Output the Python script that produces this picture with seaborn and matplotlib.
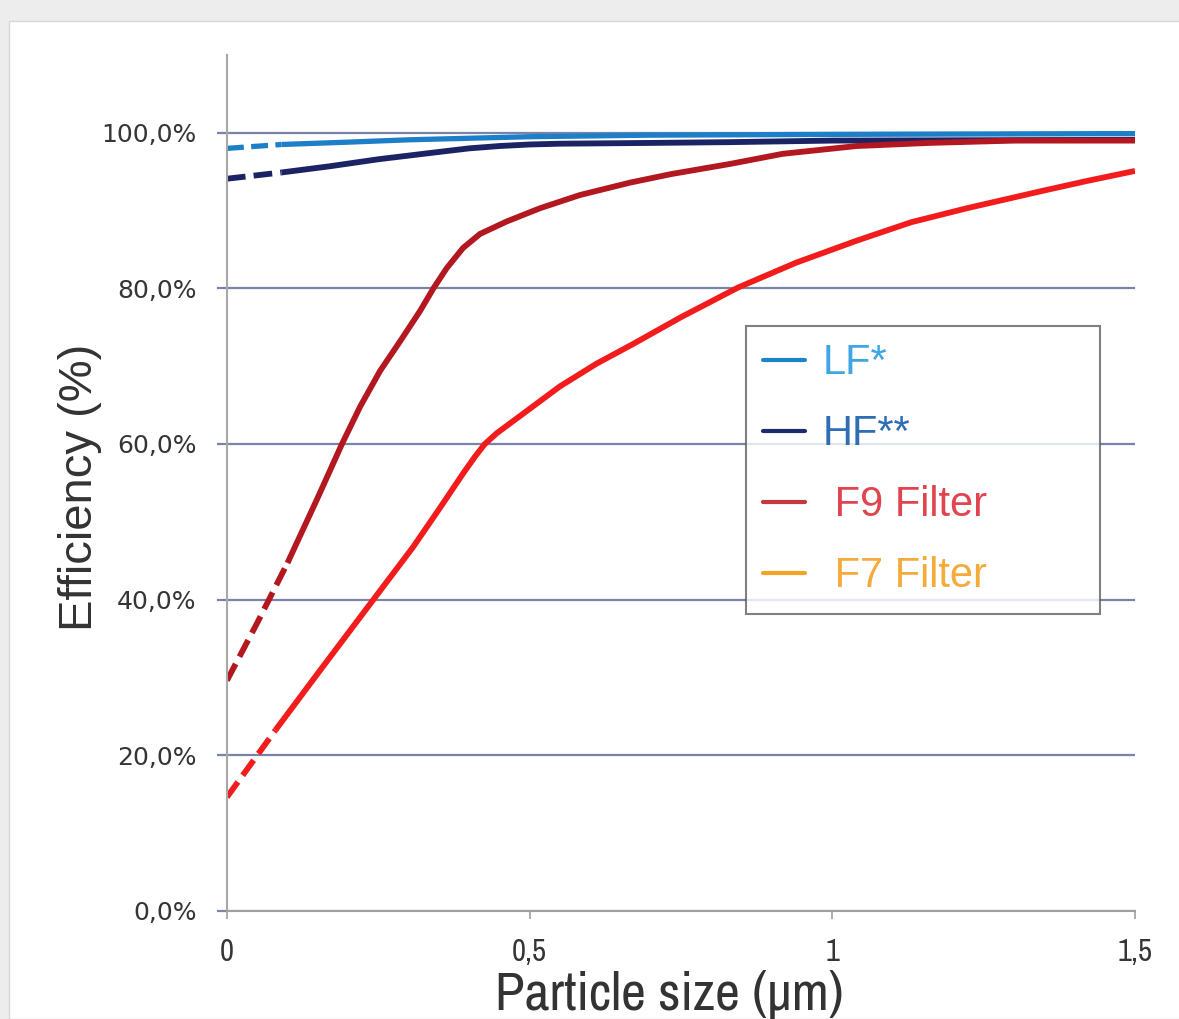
import pandas as pd
import seaborn as sns
import matplotlib.pyplot as plt
from matplotlib import font_manager
from matplotlib.lines import Line2D
from matplotlib.patches import Rectangle

# particle size (um) vs efficiency (%)
lf_x = [0, 0.09, 0.2, 0.3, 0.4, 0.5, 0.7, 1.0, 1.5]
lf_y = [98.0, 98.5, 98.8, 99.1, 99.3, 99.5, 99.7, 99.8, 99.9]

hf_x = [0, 0.09, 0.17, 0.25, 0.335, 0.4, 0.45, 0.5, 0.55, 0.7, 0.83, 1.0, 1.5]
hf_y = [94.1, 94.9, 95.7, 96.6, 97.4, 98.0, 98.3, 98.5, 98.6, 98.7, 98.8, 99.0, 99.1]

f9_x = [0, 0.05, 0.1, 0.15, 0.19, 0.22, 0.253, 0.286, 0.319, 0.341, 0.363, 0.39,
        0.418, 0.462, 0.517, 0.583, 0.666, 0.734, 0.831, 0.918, 1.04, 1.16, 1.3, 1.5]
f9_y = [29.6, 37.0, 44.7, 53.1, 60.0, 64.8, 69.4, 73.2, 77.1, 80.0, 82.6, 85.2,
        87.0, 88.6, 90.3, 92.0, 93.6, 94.7, 96.0, 97.3, 98.3, 98.7, 99.0, 99.0]

f7_x = [0, 0.08, 0.15, 0.241, 0.307, 0.352, 0.39, 0.41, 0.426, 0.446, 0.479, 0.55,
        0.61, 0.672, 0.75, 0.844, 0.94, 1.039, 1.13, 1.222, 1.345, 1.42, 1.5]
f7_y = [14.6, 23.2, 30.5, 39.9, 46.7, 51.8, 56.2, 58.4, 60.0, 61.4, 63.3, 67.4,
        70.3, 72.9, 76.3, 80.1, 83.3, 86.1, 88.5, 90.3, 92.5, 93.8, 95.1]

# where each curve turns from dashed to solid
dash_end = {"LF": 0.09, "HF": 0.09, "F9": 0.1, "F7": 0.08}

line_colors = {"LF": "#1c7fc8", "HF": "#1b2364", "F9": "#b3171f", "F7": "#f21c1c"}

legend_labels = ["LF*", "HF**", " F9 Filter", " F7 Filter"]
legend_handle_colors = ["#1c82c9", "#1d2b6b", "#c23a40", "#f2a424"]
legend_text_colors = ["#3fa6e3", "#2f6db5", "#e0454f", "#f4ab3c"]

y_ticks = [0, 20, 40, 60, 80, 100]
y_ticklabels = ["0,0%", "20,0%", "40,0%", "60,0%", "80,0%", "100,0%"]
x_ticks = [0, 0.5, 1, 1.5]
x_ticklabels = ["0", "0,5", "1", "1,5"]

installed = {f.name for f in font_manager.fontManager.ttflist}


def pick(*names):
    for n in names:
        if n in installed:
            return n
    return "DejaVu Sans"


narrow_font = pick("Liberation Sans Narrow", "Archivo Narrow", "PT Sans Narrow",
                   "Roboto Condensed")
helv_font = pick("Liberation Sans", "Arimo", "Helvetica", "Arial")


def draw_curve(ax, x, y, color, cut, lw=4.2):
    df = pd.DataFrame({"size": x, "eff": y})
    head = df[df["size"] <= cut]
    tail = df[df["size"] >= cut]
    sns.lineplot(data=head, x="size", y="eff", color=color, lw=lw, ax=ax,
                 errorbar=None, linestyle=(0, (3.2, 1.4)))
    sns.lineplot(data=tail, x="size", y="eff", color=color, lw=lw, ax=ax,
                 errorbar=None, solid_capstyle="butt", solid_joinstyle="round")


sns.set_style("white")
plt.rcParams["font.family"] = ["DejaVu Sans"]

fig = plt.figure(figsize=(11.79, 10.19), dpi=100, facecolor="#ededed")
fig.patches.append(Rectangle((9 / 1179, 0), 1, 1 - 21 / 1019, transform=fig.transFigure,
                             facecolor="white", edgecolor="#d8d8d8", lw=1, zorder=-5))
ax = fig.add_axes([0.1925, 0.1063, 0.7702, 0.8397])
ax.set_zorder(2)
ax.set_facecolor("none")

draw_curve(ax, hf_x, hf_y, line_colors["HF"], dash_end["HF"])
draw_curve(ax, lf_x, lf_y, line_colors["LF"], dash_end["LF"], lw=3.8)
draw_curve(ax, f9_x, f9_y, line_colors["F9"], dash_end["F9"])
draw_curve(ax, f7_x, f7_y, line_colors["F7"], dash_end["F7"])

ax.set_xlim(0, 1.5)
ax.set_ylim(0, 110)
ax.set_yticks(y_ticks)
ax.set_yticklabels(y_ticklabels)
ax.set_xticks(x_ticks)
ax.set_xticklabels(x_ticklabels, family=[narrow_font, "DejaVu Sans"])

grid_color = "#7a84a8"
ax.yaxis.grid(True, color=grid_color, lw=1.6)
ax.xaxis.grid(False)
ax.set_axisbelow(True)
for s in ["top", "right"]:
    ax.spines[s].set_visible(False)
ax.spines["left"].set_color("#a8a8a8")
ax.spines["left"].set_linewidth(1.5)
ax.spines["bottom"].set_color("#a0a0a0")
ax.spines["bottom"].set_linewidth(1.5)

ax.tick_params(axis="y", length=7, width=1.6, color=grid_color, pad=15,
               labelsize=18, labelcolor="#353535", left=True)
ax.tick_params(axis="x", length=6, width=1.2, color="#a0a0a0", pad=14,
               labelsize=22, labelcolor="#353535", bottom=True)

ax.set_xlabel("Particle size (µm)", fontsize=39, color="#333333", va="top",
              family=[narrow_font, "DejaVu Sans"])
ax.xaxis.set_label_coords(0.487, -0.069)
ax.set_ylabel("Efficiency (%)", fontsize=34, color="#333333",
              family=[helv_font, "DejaVu Sans"])
ax.yaxis.set_label_coords(-0.138, 0.495)

handles = [Line2D([], [], color=c, lw=3) for c in legend_handle_colors]
leg = ax.legend(handles, legend_labels, loc="upper left", mode="expand",
                bbox_to_anchor=(0.5716, 0.0, 0.39, 0.6833), borderaxespad=0,
                prop=dict(family=[helv_font, "DejaVu Sans"], size=30),
                handlelength=1.0, handletextpad=0.42, labelspacing=0.745,
                borderpad=0.416, fancybox=False, frameon=True)
leg.get_frame().set_edgecolor("#606060")
leg.get_frame().set_linewidth(1.5)
for t, c in zip(leg.get_texts(), legend_text_colors):
    t.set_color(c)

fig.savefig("out.png", dpi=100, facecolor=fig.get_facecolor())
